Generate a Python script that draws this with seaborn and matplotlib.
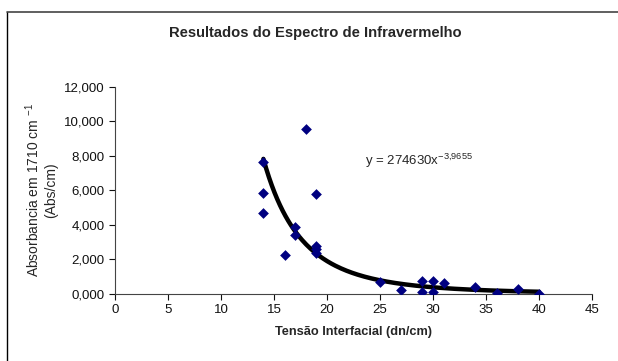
import numpy as np
import pandas as pd
import matplotlib
matplotlib.use("Agg")
import matplotlib.pyplot as plt
from matplotlib.ticker import FuncFormatter
import seaborn as sns

# data
tensao = [14, 14, 14, 16, 17, 17, 18, 19, 19, 19, 19,
          25, 27, 29, 29, 30, 30, 31, 34, 36, 38, 40]
absorbancia = [7.65, 5.84, 4.68, 2.27, 3.90, 3.42, 9.55, 5.80, 2.75, 2.62, 2.37,
               0.70, 0.23, 0.72, 0.10, 0.72, 0.08, 0.64, 0.39, 0.06, 0.27, 0.02]

# power trendline as reported on the chart
coef_a = 274630
coef_b = -3.9655

df = pd.DataFrame({"tensao": tensao, "abs": absorbancia})
xs = np.linspace(min(tensao), max(tensao), 200)
trend = pd.DataFrame({"x": xs, "y": coef_a * xs ** coef_b})

sns.set_style("white")
plt.rcParams["font.family"] = ["Liberation Sans", "DejaVu Sans"]
plt.rcParams["mathtext.fontset"] = "custom"
plt.rcParams["mathtext.rm"] = "Liberation Sans"
plt.rcParams["mathtext.it"] = "Liberation Sans"
plt.rcParams["mathtext.default"] = "regular"

fig = plt.figure(figsize=(6.18, 3.61), dpi=100)
ax = fig.add_axes([0.186, 0.186, 0.772, 0.573])

sns.lineplot(data=trend, x="x", y="y", color="black", lw=3.2, ax=ax)
sns.scatterplot(data=df, x="tensao", y="abs", marker="D", color="#000080",
                s=30, edgecolor="#000080", linewidth=0, ax=ax, zorder=3)

ax.set_xlim(0, 45)
ax.set_ylim(0, 12)
ax.set_xticks(range(0, 46, 5))
ax.set_yticks(range(0, 13, 2))
ax.yaxis.set_major_formatter(FuncFormatter(lambda v, p: f"{v:.3f}".replace(".", ",")))
ax.tick_params(axis="both", direction="out", length=4, width=0.8, labelsize=9.5,
               colors="#111111", bottom=True, left=True)
for side in ["top", "right"]:
    ax.spines[side].set_visible(False)
for side in ["left", "bottom"]:
    ax.spines[side].set_color("#444444")
    ax.spines[side].set_linewidth(0.8)

ax.set_xlabel("Tensão Interfacial (dn/cm)", fontsize=9.2, fontweight="bold", labelpad=7)
ax.set_ylabel("Absorbancia em 1710 cm $^{-1}$\n(Abs/cm)", fontsize=10, labelpad=4)
ax.text(23.6, 7.7, "y = 274630x$^{-3{,}9655}$", fontsize=9.5, ha="left", va="center")

fig.text(0.51, 0.908, "Resultados do Espectro de Infravermelho", ha="center",
         va="center", fontsize=10.6, fontweight="bold")

# chart area border (left and top edges visible)
fig.add_artist(plt.Line2D([7 / 618, 7 / 618], [0, 1 - 12 / 361], color="black", lw=1))
fig.add_artist(plt.Line2D([7 / 618, 1], [1 - 12 / 361, 1 - 12 / 361], color="#444444", lw=1.2))

fig.savefig("out.png", dpi=100)
